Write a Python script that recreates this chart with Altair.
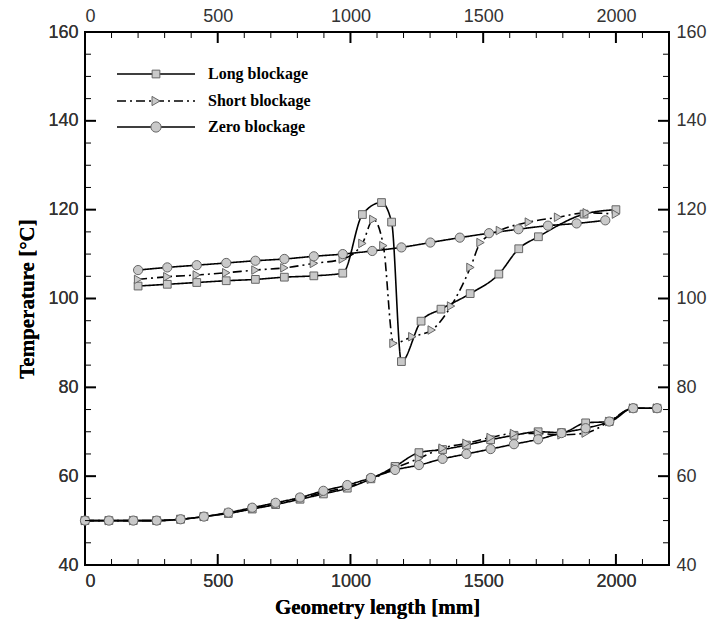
import altair as alt
import pandas as pd

# ---------------- data ----------------
series_names = ["Long blockage", "Short blockage", "Zero blockage"]

long_up_x = [200, 310, 421, 532, 642, 751, 862, 971, 1045, 1117, 1155, 1192, 1266, 1341, 1451, 1559, 1634, 1708, 1880, 2000]
long_up_y = [102.8, 103.2, 103.6, 104.0, 104.3, 104.8, 105.1, 105.7, 118.9, 121.6, 117.2, 85.8, 94.9, 97.6, 101.1, 105.5, 111.2, 113.9, 119.0, 120.0]

short_up_x = [200, 310, 421, 532, 642, 751, 862, 971, 1045, 1086, 1124, 1162, 1233, 1306, 1379, 1452, 1490, 1563, 1672, 1782, 1890, 2000]
short_up_y = [104.3, 104.9, 105.3, 105.8, 106.4, 106.9, 107.9, 108.9, 112.4, 117.8, 111.9, 89.9, 91.4, 92.9, 98.3, 107.0, 112.6, 115.3, 117.2, 118.3, 119.3, 119.0]

zero_up_x = [200, 310, 421, 532, 642, 751, 862, 971, 1082, 1192, 1301, 1412, 1522, 1633, 1744, 1852, 1960]
zero_up_y = [106.4, 107.0, 107.5, 108.0, 108.5, 108.9, 109.5, 110.0, 110.7, 111.5, 112.6, 113.7, 114.7, 115.6, 116.4, 116.9, 117.6]

low_x = [0, 90, 182, 270, 360, 448, 540, 630, 718, 810, 898, 988, 1077, 1168, 1258, 1347, 1437, 1528, 1616, 1707, 1795, 1886, 1975, 2065, 2155]
long_low_y = [50.0, 50.0, 50.0, 50.0, 50.3, 50.9, 51.6, 52.6, 53.6, 54.8, 56.0, 57.3, 59.4, 62.2, 65.3, 66.0, 67.0, 68.2, 69.2, 70.0, 69.8, 72.0, 72.3, 75.3, 75.3]
short_low_y = [50.0, 50.0, 50.0, 50.0, 50.3, 50.9, 51.7, 52.7, 53.8, 55.0, 56.3, 57.6, 59.3, 61.8, 64.0, 66.3, 67.4, 68.7, 69.6, 69.6, 69.3, 69.7, 72.3, 75.3, 75.3]
zero_low_y = [50.0, 50.0, 50.0, 50.0, 50.3, 50.9, 51.8, 52.9, 54.0, 55.2, 56.7, 58.0, 59.6, 61.4, 62.5, 63.9, 65.0, 66.1, 67.2, 68.3, 69.7, 70.8, 72.3, 75.3, 75.3]

x_major = [0, 500, 1000, 1500, 2000]
x_minor = [v for v in range(0, 2201, 100) if v not in x_major]
y_major = [40, 60, 80, 100, 120, 140, 160]
y_minor = [v for v in range(40, 161, 5) if v not in y_major]

# ---------------- layout / style ----------------
W, H = 584, 533
LINE = "black"
MFILL = "#c9c9c9"
MSTROKE = "#666666"
LABEL_FONT = "Liberation Sans"
TITLE_FONT = "Liberation Serif"

dash_range = [[1, 0], [9, 4, 2, 4], [1, 0]]
shape_range = ["square", "triangle-right", "circle"]
size_range = [60, 85, 105]

label_props = dict(grid=False, domain=False, ticks=False, labelFont=LABEL_FONT,
                   labelFontSize=18, labelFontWeight="normal", labelColor="#333333",
                   labelPadding=7, format="d")

def frame(xs, ys, name, part):
    return pd.DataFrame({"x": xs, "y": ys, "series": name, "grp": name + " " + part})

curves = pd.concat([
    frame(long_up_x, long_up_y, "Long blockage", "up"),
    frame(short_up_x, short_up_y, "Short blockage", "up"),
    frame(zero_up_x, zero_up_y, "Zero blockage", "up"),
    frame(low_x, long_low_y, "Long blockage", "low"),
    frame(low_x, short_low_y, "Short blockage", "low"),
    frame(low_x, zero_low_y, "Zero blockage", "low"),
], ignore_index=True)

xscale = alt.Scale(domain=[0, 2200], nice=False, zero=False)
yscale = alt.Scale(domain=[40, 160], nice=False, zero=False)

x_bottom = alt.X("x:Q", scale=xscale,
                 axis=alt.Axis(orient="bottom", values=x_major,
                               title="Geometry length [mm]",
                               titleFont=TITLE_FONT, titleFontSize=21, titleFontWeight="bold",
                               titleColor="black", titlePadding=6, **label_props))
y_left = alt.Y("y:Q", scale=yscale,
               axis=alt.Axis(orient="left", values=y_major,
                             title="Temperature [°C]",
                             titleFont=TITLE_FONT, titleFontSize=21, titleFontWeight="bold",
                             titleColor="black", titlePadding=10, **label_props))

series_dash = alt.StrokeDash("series:N", scale=alt.Scale(domain=series_names, range=dash_range), legend=None)
series_shape = alt.Shape("series:N", scale=alt.Scale(domain=series_names, range=shape_range), legend=None)
series_size = alt.Size("series:N", scale=alt.Scale(domain=series_names, range=size_range), legend=None)

lines = alt.Chart(curves).mark_line(color=LINE, strokeWidth=1.6, interpolate="monotone").encode(
    x=x_bottom, y=y_left, detail="grp:N", strokeDash=series_dash)
points = alt.Chart(curves).mark_point(filled=True, fill=MFILL, stroke=MSTROKE,
                                      strokeWidth=1, opacity=1).encode(
    x=x_bottom, y=y_left, shape=series_shape, size=series_size)

# inward ticks on all four sides (plot-frame ticks)
def xticks(vals, length, width):
    d = pd.DataFrame({"x": vals})
    xs = alt.X("x:Q", scale=xscale, axis=None)
    bot = alt.Chart(d).mark_rule(color="black", strokeWidth=width).encode(
        x=xs, y=alt.value(H - length), y2=alt.value(H))
    top = alt.Chart(d).mark_rule(color="black", strokeWidth=width).encode(
        x=xs, y=alt.value(0), y2=alt.value(length))
    return [bot, top]

def yticks(vals, length, width):
    d = pd.DataFrame({"y": vals})
    ys = alt.Y("y:Q", scale=yscale, axis=None)
    left = alt.Chart(d).mark_rule(color="black", strokeWidth=width).encode(
        y=ys, x=alt.value(0), x2=alt.value(length))
    right = alt.Chart(d).mark_rule(color="black", strokeWidth=width).encode(
        y=ys, x=alt.value(W - length), x2=alt.value(W))
    return [left, right]

tick_layers = (xticks(x_major, 11, 2) + xticks(x_minor, 6, 1)
               + yticks(y_major, 11, 2) + yticks(y_minor, 6, 1))

# top / right axes (labels only)
axis_df = pd.DataFrame({"x": [0, 2200], "y": [40, 160]})
secondary = alt.Chart(axis_df).mark_point(opacity=0).encode(
    x=alt.X("x:Q", scale=xscale, axis=alt.Axis(orient="top", values=x_major, title=None, **label_props)),
    y=alt.Y("y:Q", scale=yscale, axis=alt.Axis(orient="right", values=y_major, title=None, **label_props)),
)

# legend (drawn inside the plot, top left)
legend_rows = [42, 69, 95]
legend_layers = []
one = pd.DataFrame({"a": [0]})
for name, yy, dsh, shp, sz in zip(series_names, legend_rows, dash_range, shape_range, size_range):
    legend_layers.append(alt.Chart(one).mark_rule(color=LINE, strokeWidth=1.6, strokeDash=dsh).encode(
        x=alt.value(32), x2=alt.value(110), y=alt.value(yy)))
    legend_layers.append(alt.Chart(one).mark_point(shape=shp, size=sz, filled=True,
                                                   fill=MFILL, stroke=MSTROKE, strokeWidth=1, opacity=1).encode(
        x=alt.value(71), y=alt.value(yy)))
    legend_layers.append(alt.Chart(one).mark_text(text=name, align="left", baseline="middle",
                                                  font=TITLE_FONT, fontSize=16, fontWeight="bold",
                                                  color="black").encode(
        x=alt.value(123), y=alt.value(yy)))

chart = alt.layer(lines, points, secondary, *tick_layers, *legend_layers).resolve_axis(
    x="independent", y="independent"
).properties(
    width=W, height=H,
    autosize=alt.AutoSizeParams(type="none"),
    padding={"left": 85, "top": 32, "right": 44, "bottom": 56},
).configure_view(
    stroke="black", strokeWidth=2
)

chart.save("out.html", embed_options={"renderer": "svg", "actions": False})
